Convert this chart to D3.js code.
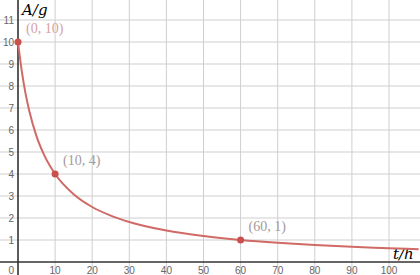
<!DOCTYPE html>
<html>
<head>
<meta charset="utf-8">
<script src="https://cdn.jsdelivr.net/npm/d3@7"></script>
<style>
  html, body { margin: 0; padding: 0; background: #fff; }
  svg { display: block; }
</style>
</head>
<body>
<div id="chart"></div>
<script>
// Size of the picture
const width = 420;
const height = 275;

// Curve samples (t in hours, A in grams)
const curveT = [0, 1, 2, 3, 5, 7, 10, 15, 20, 25, 30, 40, 50, 60, 70, 80, 90, 100, 108];
const curveA = [10, 8.7, 7.69, 6.9, 5.71, 4.88, 4, 3.08, 2.5, 2.11, 1.82, 1.43, 1.18, 1, 0.87, 0.77, 0.69, 0.63, 0.58];

// Marked points and their labels
const pointT = [0, 10, 60];
const pointA = [10, 4, 1];
const pointLabels = ['(0, 10)', '(10, 4)', '(60, 1)'];

// Tick values
const xTicks = [10, 20, 30, 40, 50, 60, 70, 80, 90, 100];
const yTicks = [1, 2, 3, 4, 5, 6, 7, 8, 9, 10, 11];

const svg = d3.select('#chart').append('svg')
    .attr('width', width)
    .attr('height', height);

// Scales: origin at (18, 262), 3.71 px per hour, 22 px per gram
const x = d3.scaleLinear().domain([0, 100]).range([18, 389]);
const y = d3.scaleLinear().domain([0, 10]).range([262, 42]);

// Grid lines
const gridX = d3.range(10, 110, 10);
const gridY = d3.range(1, 13, 1);
svg.append('g')
    .selectAll('line')
    .data(gridX)
    .join('line')
    .attr('x1', d => x(d)).attr('x2', d => x(d))
    .attr('y1', 0).attr('y2', height)
    .attr('stroke', '#cfcfcf')
    .attr('stroke-width', 1);
svg.append('g')
    .selectAll('line')
    .data(gridY)
    .join('line')
    .attr('x1', 0).attr('x2', width)
    .attr('y1', d => y(d)).attr('y2', d => y(d))
    .attr('stroke', '#cfcfcf')
    .attr('stroke-width', 1);

// Axis lines
svg.append('line')
    .attr('x1', x(0)).attr('x2', x(0))
    .attr('y1', 0).attr('y2', height)
    .attr('stroke', '#333').attr('stroke-width', 1.6);
svg.append('line')
    .attr('x1', 0).attr('x2', width)
    .attr('y1', y(0)).attr('y2', y(0))
    .attr('stroke', '#333').attr('stroke-width', 1.6);

// Tick labels
const tickFont = 'Arial, "Liberation Sans", sans-serif';
svg.append('g')
    .selectAll('text')
    .data(xTicks)
    .join('text')
    .attr('x', d => x(d))
    .attr('y', y(0) + 12)
    .attr('text-anchor', 'middle')
    .attr('font-family', tickFont)
    .attr('font-size', 10)
    .attr('fill', '#666')
    .text(d => d);
svg.append('g')
    .selectAll('text')
    .data(yTicks)
    .join('text')
    .attr('x', x(0) - 4)
    .attr('y', d => y(d) + 3.5)
    .attr('text-anchor', 'end')
    .attr('font-family', tickFont)
    .attr('font-size', 10)
    .attr('fill', '#666')
    .text(d => d);
svg.append('text')
    .attr('x', x(0) - 4)
    .attr('y', y(0) + 12)
    .attr('text-anchor', 'end')
    .attr('font-family', tickFont)
    .attr('font-size', 10)
    .attr('fill', '#666')
    .text('0');

// Axis titles
const mathFont = '"DejaVu Serif", "Liberation Serif", serif';
svg.append('text')
    .attr('x', 22)
    .attr('y', 15)
    .attr('font-family', mathFont)
    .attr('font-style', 'italic')
    .attr('font-size', 15)
    .attr('fill', '#000')
    .text('A/g');
svg.append('text')
    .attr('x', 393)
    .attr('y', 259)
    .attr('font-family', mathFont)
    .attr('font-style', 'italic')
    .attr('font-size', 15)
    .attr('fill', '#000')
    .text('t/h');

// Curve
const curveData = curveT.map((t, i) => ({t: t, a: curveA[i]}));
const line = d3.line()
    .x(d => x(d.t))
    .y(d => y(d.a))
    .curve(d3.curveMonotoneX);
svg.append('path')
    .datum(curveData)
    .attr('d', line)
    .attr('fill', 'none')
    .attr('stroke', '#d06a66')
    .attr('stroke-width', 2);

// Points and labels
const pointData = pointT.map((t, i) => ({t: t, a: pointA[i], label: pointLabels[i]}));
svg.append('g')
    .selectAll('circle')
    .data(pointData)
    .join('circle')
    .attr('cx', d => x(d.t))
    .attr('cy', d => y(d.a))
    .attr('r', 3.5)
    .attr('fill', '#c9504c');
svg.append('g')
    .selectAll('text')
    .data(pointData)
    .join('text')
    .attr('x', d => x(d.t) + 8)
    .attr('y', d => y(d.a) - 9)
    .attr('font-family', '"Liberation Serif", "DejaVu Serif", serif')
    .attr('font-size', 14)
    .attr('fill', (d, i) => i === 0 ? '#d4a2a2' : '#a59a9a')
    .text(d => d.label);
</script>
</body>
</html>
